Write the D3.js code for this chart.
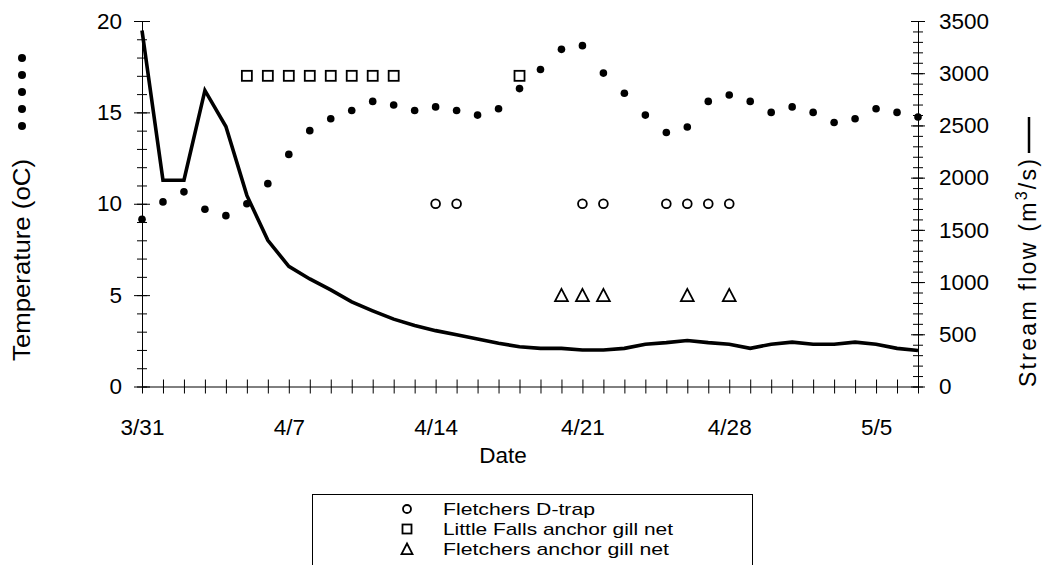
<!DOCTYPE html>
<html>
<head>
<meta charset="utf-8">
<script src="https://cdn.jsdelivr.net/npm/d3@7"></script>
<style>
  html, body { margin: 0; padding: 0; background: #fff; }
  svg { display: block; font-family: "Liberation Sans", Arial, sans-serif; }
  text { fill: #000; }
</style>
</head>
<body>
<svg id="chart" width="1042" height="565"></svg>
<script>
// Daily record, 3/31 through 5/7
const startDay = new Date(2004, 2, 31);
const endDay = new Date(2004, 4, 7);
const days = d3.timeDay.range(startDay, d3.timeDay.offset(endDay, 1));

// Mean daily water temperature (°C)
const temperature = [
  9.15, 10.1, 10.65, 9.7, 9.35, 10.0, 11.1, 12.7, 14.0, 14.65,
  15.1, 15.6, 15.4, 15.1, 15.3, 15.1, 14.85, 15.2, 16.3, 17.35,
  18.45, 18.65, 17.15, 16.05, 14.85, 13.9, 14.2, 15.6, 15.95, 15.6,
  15.0, 15.3, 15.0, 14.45, 14.65, 15.2, 15.0, 14.75
];

// Mean daily stream flow (m3/s)
const streamFlow = [
  3410, 1975, 1975, 2835, 2490, 1830, 1400, 1150, 1030, 925,
  810, 725, 645, 585, 535, 495, 455, 415, 380, 365,
  365, 350, 350, 365, 405, 420, 440, 420, 405, 365,
  405, 425, 405, 405, 425, 405, 365, 345
];

// Sampling days for each gear, drawn at a fixed level on the temperature axis
const dTrapDays = ["4/14", "4/15", "4/21", "4/22", "4/25", "4/26", "4/27", "4/28"];
const dTrapLevel = 10;
const littleFallsDays = ["4/5", "4/6", "4/7", "4/8", "4/9", "4/10", "4/11", "4/12", "4/18"];
const littleFallsLevel = 17;
const fletchersGillDays = ["4/20", "4/21", "4/22", "4/26", "4/28"];
const fletchersGillLevel = 5;

const dateLabels = ["3/31", "4/7", "4/14", "4/21", "4/28", "5/5"];
const tempTicks = [0, 5, 10, 15, 20];
const flowTicks = [0, 500, 1000, 1500, 2000, 2500, 3000, 3500];

const legendItems = ["Fletchers D-trap", "Little Falls anchor gill net", "Fletchers anchor gill net"];
const legendWidths = [152, 230, 226];

const parseMD = s => { const [m, d] = s.split("/").map(Number); return new Date(2004, m - 1, d); };
const fmt = d3.timeFormat("%-m/%-d");

const svg = d3.select("#chart");
svg.append("rect").attr("width", 1042).attr("height", 565).attr("fill", "#fff");

const plot = { left: 142, right: 918, top: 21, bottom: 386.5 };

const x = d3.scaleTime().domain([startDay, endDay]).range([plot.left, plot.right]);
const yT = d3.scaleLinear().domain([0, 20]).range([plot.bottom, plot.top]);
const yQ = d3.scaleLinear().domain([0, 3500]).range([plot.bottom, plot.top]);

const fontTick = 22.5;

// ---- Left (temperature) axis
const leftMinor = svg.append("g").attr("transform", `translate(${plot.left},0)`)
  .call(d3.axisLeft(yT).tickValues(d3.range(0, 21, 1)).tickFormat("").tickSize(5).tickSizeOuter(0));
leftMinor.selectAll(".tick line").attr("x1", 5);
const leftMajor = svg.append("g").attr("transform", `translate(${plot.left},0)`)
  .call(d3.axisLeft(yT).tickValues(tempTicks).tickSize(8).tickPadding(12).tickSizeOuter(0));
leftMajor.selectAll(".tick line").attr("x1", 8);
leftMajor.select(".domain").remove();

// ---- Right (stream flow) axis
const rightMinor = svg.append("g").attr("transform", `translate(${plot.right},0)`)
  .call(d3.axisRight(yQ).tickValues(d3.range(0, 3501, 100)).tickFormat("").tickSize(5).tickSizeOuter(0));
rightMinor.selectAll(".tick line").attr("x1", -5);
const rightMajor = svg.append("g").attr("transform", `translate(${plot.right},0)`)
  .call(d3.axisRight(yQ).tickValues(flowTicks).tickFormat(d3.format("d"))
    .tickSize(7).tickPadding(14).tickSizeOuter(0));
rightMajor.selectAll(".tick line").attr("x1", -7);
rightMajor.select(".domain").remove();

// ---- Bottom (date) axis: a tick every day, a label every week
const labelSet = new Set(dateLabels);
const bottom = svg.append("g").attr("transform", `translate(0,${plot.bottom})`)
  .call(d3.axisBottom(x).tickValues(days).tickSize(7).tickPadding(26)
    .tickFormat(d => labelSet.has(fmt(d)) ? fmt(d) : "").tickSizeOuter(0));
bottom.selectAll(".tick line").attr("y1", -7);

svg.selectAll(".tick text").attr("font-size", fontTick).attr("font-family", "Liberation Sans, Arial, sans-serif").attr("fill", "#000");
svg.selectAll(".domain, .tick line").attr("stroke", "#000").attr("stroke-width", 1);

// ---- Axis titles
svg.append("text").attr("x", 503).attr("y", 463).attr("text-anchor", "middle")
  .attr("font-size", fontTick).text("Date");

svg.append("text").attr("transform", "translate(30,361) rotate(-90)")
  .attr("font-size", 23).attr("textLength", 202).attr("lengthAdjust", "spacingAndGlyphs")
  .text("Temperature (oC)");
// dotted-marker key for temperature
svg.append("g").selectAll("circle").data(d3.range(5)).join("circle")
  .attr("cx", 22).attr("cy", i => 126 - i * 17).attr("r", 4).attr("fill", "#000");

const flowTitle = svg.append("text").attr("transform", "translate(1036,387) rotate(-90)")
  .attr("font-size", 23);
flowTitle.append("tspan").text("Stream flow (m");
flowTitle.append("tspan").attr("font-size", 16).attr("dy", -9).text("3");
flowTitle.append("tspan").attr("dy", 9).text("/s)");
flowTitle.attr("textLength", 228).attr("lengthAdjust", "spacing");
// solid-line key for stream flow
svg.append("line").attr("x1", 1029).attr("x2", 1029)
  .attr("y1", 153).attr("y2", 117)
  .attr("stroke", "#000").attr("stroke-width", 2.5);

// ---- Stream flow line
const flowLine = d3.line().x((d, i) => x(days[i])).y(d => yQ(d));
svg.append("path").datum(streamFlow).attr("d", flowLine)
  .attr("fill", "none").attr("stroke", "#000").attr("stroke-width", 3.6).attr("stroke-linejoin", "miter");

// ---- Temperature dots
svg.append("g").selectAll("circle").data(temperature).join("circle")
  .attr("cx", (d, i) => x(days[i])).attr("cy", d => yT(d)).attr("r", 3.8).attr("fill", "#000");

// ---- Sampling markers
const triPath = "M0,-6.2L6.4,6L-6.4,6Z";
svg.append("g").selectAll("circle").data(dTrapDays).join("circle")
  .attr("cx", d => x(parseMD(d))).attr("cy", yT(dTrapLevel)).attr("r", 4.4)
  .attr("fill", "#fff").attr("stroke", "#000").attr("stroke-width", 1.8);
svg.append("g").selectAll("rect").data(littleFallsDays).join("rect")
  .attr("x", d => x(parseMD(d)) - 5).attr("y", yT(littleFallsLevel) - 5)
  .attr("width", 10).attr("height", 10)
  .attr("fill", "#fff").attr("stroke", "#000").attr("stroke-width", 1.8);
svg.append("g").selectAll("path").data(fletchersGillDays).join("path")
  .attr("transform", d => `translate(${x(parseMD(d))},${yT(fletchersGillLevel)})`)
  .attr("d", triPath).attr("fill", "#fff").attr("stroke", "#000").attr("stroke-width", 1.8);

// ---- Legend
const lg = svg.append("g");
lg.append("rect").attr("x", 312.5).attr("y", 494.5).attr("width", 440).attr("height", 90)
  .attr("fill", "#fff").attr("stroke", "#000").attr("stroke-width", 1);
const rowY = i => 509 + i * 20;
lg.append("circle").attr("cx", 407).attr("cy", rowY(0)).attr("r", 4)
  .attr("fill", "#fff").attr("stroke", "#000").attr("stroke-width", 1.8);
lg.append("rect").attr("x", 402.5).attr("y", rowY(1) - 4.5).attr("width", 9).attr("height", 9)
  .attr("fill", "#fff").attr("stroke", "#000").attr("stroke-width", 1.8);
lg.append("path").attr("transform", `translate(407,${rowY(2)})`).attr("d", "M0,-5.5L5.5,5.2L-5.5,5.2Z")
  .attr("fill", "#fff").attr("stroke", "#000").attr("stroke-width", 1.8);
lg.selectAll("text").data(legendItems).join("text")
  .attr("x", 443).attr("y", (d, i) => rowY(i)).attr("dy", "0.36em")
  .attr("font-size", 17).attr("textLength", (d, i) => legendWidths[i])
  .attr("lengthAdjust", "spacingAndGlyphs").text(d => d);
</script>
</body>
</html>
